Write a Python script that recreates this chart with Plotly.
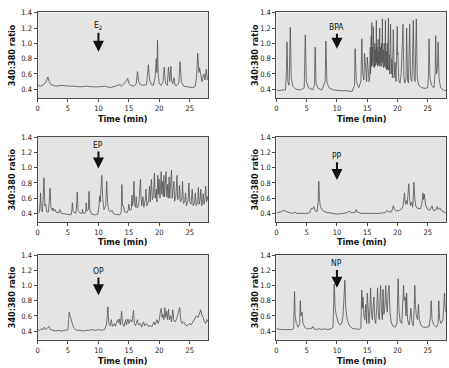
import plotly.graph_objects as go

# ---------------- data (time in min, 340:380 ratio) ----------------
e2_t = [0, 0.5, 1.0, 1.4, 1.7, 1.9, 2.2, 2.6, 3.0, 4.0,
        5.0, 6.0, 7.0, 8.0, 9.0, 10.0, 11.0, 12.0, 12.5, 13.0,
        13.5, 13.8, 14.2, 14.5, 14.8, 15.0, 15.3, 15.8, 16.2, 16.4,
        16.6, 16.9, 17.3, 17.9, 18.2, 18.4, 18.7, 19.0, 19.3, 19.5,
        19.6, 19.7, 19.8, 20.0, 20.3, 20.6, 20.8, 21.0, 21.3, 21.5,
        21.7, 21.9, 22.0, 22.2, 22.4, 22.6, 22.9, 23.2, 23.4, 23.6,
        24.0, 24.5, 25.0, 25.5, 25.9, 26.1, 26.3, 26.5, 26.6, 26.8,
        27.0, 27.2, 27.3, 27.5, 27.7, 27.9]
e2_y = [0.45, 0.44, 0.46, 0.50, 0.56, 0.50, 0.46, 0.45, 0.44, 0.45,
        0.44, 0.44, 0.43, 0.44, 0.43, 0.43, 0.44, 0.42, 0.43, 0.44,
        0.46, 0.44, 0.47, 0.50, 0.54, 0.48, 0.45, 0.44, 0.47, 0.63,
        0.50, 0.46, 0.45, 0.46, 0.72, 0.52, 0.46, 0.45, 0.55, 0.80,
        0.62, 1.04, 0.60, 0.47, 0.45, 0.50, 0.69, 0.48, 0.45, 0.69,
        0.50, 0.70, 0.52, 0.47, 0.55, 0.45, 0.45, 0.48, 0.76, 0.50,
        0.44, 0.43, 0.42, 0.42, 0.44, 0.55, 0.87, 0.62, 0.68, 0.55,
        0.50, 0.57, 0.60, 0.52, 0.66, 0.52]

bpa_t = [0, 0.5, 1.0, 1.5, 1.65, 1.75, 1.9, 2.1, 2.2, 2.3,
         2.45, 2.7, 3.2, 4.0, 4.6, 4.77, 4.95, 5.3, 6.0, 6.3,
         6.4, 6.55, 6.9, 7.5, 8.05, 8.17, 8.35, 8.8, 9.5, 10.5,
         11.5, 12.5, 12.9, 13.0, 13.2, 13.6, 13.95, 14.1, 14.25, 14.45,
         14.55, 14.75, 14.9, 15.0, 15.15, 15.3, 15.4, 15.5, 15.55, 15.65,
         15.7, 15.75, 15.8, 15.9, 15.95, 16.0, 16.05, 16.1, 16.15, 16.25,
         16.3, 16.4, 16.45, 16.5, 16.55, 16.65, 16.7, 16.8, 16.85, 16.95,
         17.0, 17.05, 17.1, 17.2, 17.25, 17.35, 17.4, 17.5, 17.55, 17.65,
         17.7, 17.8, 17.85, 17.95, 18.0, 18.05, 18.15, 18.2, 18.3, 18.35,
         18.5, 18.55, 18.65, 18.7, 18.85, 18.95, 19.05, 19.15, 19.3, 19.45,
         19.6, 19.75, 19.95, 20.0, 20.05, 20.2, 20.4, 20.6, 20.9, 21.05,
         21.2, 21.4, 21.5, 21.65, 21.8, 22.0, 22.15, 22.35, 22.45, 22.6,
         22.75, 22.9, 23.1, 23.25, 23.5, 24.0, 24.5, 25.0, 25.1, 25.2,
         25.35, 25.6, 26.0, 26.2, 26.3, 26.35, 26.45, 26.6, 26.7, 26.85,
         27.1, 27.5, 28.0]
bpa_y = [0.39, 0.38, 0.39, 0.39, 0.60, 1.02, 0.50, 0.45, 0.80, 1.21,
         0.55, 0.44, 0.40, 0.39, 0.42, 1.11, 0.50, 0.42, 0.39, 0.45,
         0.95, 0.48, 0.41, 0.39, 0.50, 1.03, 0.48, 0.41, 0.39, 0.38,
         0.38, 0.37, 0.45, 0.93, 0.50, 0.42, 0.50, 1.06, 0.60, 0.52,
         0.87, 0.55, 0.50, 0.82, 0.55, 0.50, 0.52, 0.95, 0.60, 1.10,
         0.70, 1.27, 0.75, 0.95, 0.70, 1.22, 0.72, 0.90, 0.68, 1.00,
         0.70, 0.92, 0.72, 1.30, 0.75, 0.95, 0.70, 1.05, 0.72, 0.90,
         0.70, 1.20, 0.75, 0.95, 0.70, 1.00, 0.70, 1.32, 0.75, 0.92,
         0.68, 1.00, 0.70, 0.90, 1.30, 0.68, 0.90, 0.65, 1.00, 0.66,
         1.33, 0.65, 0.85, 0.60, 1.25, 0.60, 0.80, 0.55, 1.18, 0.55,
         0.75, 0.50, 1.22, 0.85, 0.88, 0.52, 0.48, 0.60, 1.25, 0.55,
         0.48, 0.55, 1.20, 0.52, 0.48, 1.25, 0.55, 0.50, 0.70, 1.30,
         0.55, 0.50, 1.32, 0.55, 0.45, 0.42, 0.41, 0.42, 0.60, 1.06,
         0.55, 0.45, 0.42, 0.60, 1.10, 0.80, 0.60, 0.70, 1.02, 0.55,
         0.42, 0.39, 0.38]

ep_t = [0, 0.3, 0.45, 0.5, 0.6, 0.8, 0.95, 1.05, 1.2, 1.35,
        1.5, 1.8, 1.95, 2.05, 2.2, 2.4, 2.55, 2.7, 2.9, 3.1,
        3.5, 3.65, 3.9, 4.5, 5.0, 5.5, 5.65, 5.72, 5.85, 6.3,
        6.45, 6.52, 6.65, 7.0, 7.3, 7.38, 7.5, 7.9, 8.0, 8.1,
        8.35, 8.45, 8.6, 8.9, 9.5, 9.9, 10.1, 10.2, 10.3, 10.45,
        10.55, 10.7, 10.9, 11.2, 11.35, 11.5, 11.7, 12.0, 12.2, 12.5,
        13.0, 13.5, 13.75, 13.85, 13.95, 14.1, 14.3, 14.7, 14.9, 15.0,
        15.1, 15.4, 15.5, 15.6, 15.75, 15.82, 15.95, 16.1, 16.2, 16.35,
        16.6, 16.8, 16.9, 17.0, 17.1, 17.3, 17.45, 17.7, 17.8, 17.95,
        18.2, 18.4, 18.5, 18.7, 18.85, 19.0, 19.2, 19.3, 19.5, 19.6,
        19.75, 19.85, 19.95, 20.1, 20.3, 20.4, 20.55, 20.65, 20.75, 20.85,
        21.0, 21.1, 21.2, 21.35, 21.45, 21.6, 21.7, 21.85, 22.0, 22.1,
        22.25, 22.4, 22.5, 22.7, 22.9, 23.0, 23.2, 23.3, 23.45, 23.7,
        23.8, 23.95, 24.15, 24.3, 24.45, 24.7, 24.85, 25.0, 25.2, 25.4,
        25.55, 25.8, 25.9, 26.05, 26.3, 26.4, 26.55, 26.7, 26.8, 26.95,
        27.1, 27.2, 27.35, 27.5, 27.6, 27.75, 27.9, 28.0]
ep_y = [0.40, 0.42, 0.55, 0.67, 0.45, 0.42, 0.65, 0.87, 0.50, 0.52,
        0.42, 0.42, 0.60, 0.73, 0.48, 0.44, 0.47, 0.43, 0.45, 0.41,
        0.41, 0.45, 0.40, 0.39, 0.38, 0.38, 0.45, 0.54, 0.42, 0.40,
        0.55, 0.68, 0.44, 0.40, 0.40, 0.45, 0.40, 0.41, 0.54, 0.43,
        0.45, 0.69, 0.44, 0.39, 0.38, 0.39, 0.50, 0.63, 0.55, 0.75,
        0.90, 0.60, 0.45, 0.50, 0.82, 0.55, 0.44, 0.42, 0.44, 0.39,
        0.38, 0.38, 0.42, 0.78, 0.50, 0.50, 0.42, 0.41, 0.45, 0.52,
        0.44, 0.45, 0.64, 0.50, 0.60, 0.82, 0.52, 0.48, 0.62, 0.47,
        0.50, 0.72, 0.85, 0.60, 0.50, 0.62, 0.48, 0.58, 0.72, 0.50,
        0.55, 0.76, 0.55, 0.85, 0.58, 0.62, 0.93, 0.60, 0.72, 0.55,
        0.90, 0.65, 0.85, 0.60, 0.95, 0.65, 0.82, 0.62, 0.90, 0.62,
        0.80, 0.95, 0.62, 0.78, 0.60, 0.88, 0.60, 0.75, 0.97, 0.60,
        0.72, 0.82, 0.56, 0.62, 0.90, 0.58, 0.60, 0.77, 0.55, 0.60,
        0.82, 0.53, 0.55, 0.67, 0.50, 0.56, 0.80, 0.55, 0.52, 0.72,
        0.50, 0.55, 0.67, 0.50, 0.55, 0.74, 0.52, 0.58, 0.72, 0.50,
        0.55, 0.66, 0.52, 0.60, 0.76, 0.55, 0.62, 0.58]

pp_t = [0, 0.5, 0.8, 1.1, 1.4, 2.0, 2.5, 3.0, 3.1, 3.3,
        4.0, 4.5, 5.0, 5.5, 5.7, 5.8, 6.0, 6.2, 6.35, 6.7,
        6.9, 7.0, 7.1, 7.25, 7.5, 8.0, 8.5, 9.0, 10.0, 11.0,
        11.7, 12.0, 12.3, 13.0, 13.15, 13.3, 14.0, 15.0, 16.0, 17.0,
        18.0, 18.3, 18.5, 19.0, 19.2, 19.3, 19.5, 19.9, 20.3, 20.7,
        20.9, 21.05, 21.15, 21.3, 21.45, 21.5, 21.6, 21.75, 21.85, 22.0,
        22.15, 22.35, 22.5, 22.6, 22.7, 22.85, 23.0, 23.2, 23.5, 23.8,
        24.0, 24.1, 24.2, 24.3, 24.45, 24.6, 24.9, 25.3, 25.5, 25.7,
        25.9, 26.3, 26.55, 26.7, 27.0, 27.2, 27.6, 28.0]
pp_y = [0.41, 0.42, 0.42, 0.44, 0.43, 0.41, 0.40, 0.41, 0.42, 0.40,
        0.40, 0.40, 0.40, 0.41, 0.45, 0.47, 0.46, 0.49, 0.44, 0.42,
        0.55, 0.82, 0.60, 0.50, 0.45, 0.42, 0.41, 0.40, 0.39, 0.40,
        0.41, 0.43, 0.41, 0.41, 0.45, 0.42, 0.40, 0.40, 0.40, 0.40,
        0.41, 0.44, 0.42, 0.42, 0.47, 0.50, 0.45, 0.43, 0.44, 0.46,
        0.50, 0.62, 0.67, 0.52, 0.55, 0.57, 0.52, 0.65, 0.79, 0.58,
        0.50, 0.55, 0.48, 0.62, 0.81, 0.60, 0.50, 0.47, 0.46, 0.46,
        0.52, 0.62, 0.67, 0.58, 0.65, 0.52, 0.46, 0.44, 0.47, 0.50,
        0.44, 0.44, 0.49, 0.45, 0.47, 0.44, 0.42, 0.41]

op_t = [0, 0.3, 0.6, 0.9, 1.1, 1.3, 1.6, 1.9, 2.1, 2.5,
        3.0, 3.5, 4.0, 4.5, 5.0, 5.1, 5.2, 5.35, 5.5, 5.7,
        5.9, 6.2, 6.5, 7.0, 7.5, 8.0, 8.5, 9.0, 9.5, 10.0,
        10.5, 11.0, 11.3, 11.45, 11.55, 11.7, 11.9, 12.1, 12.3, 12.6,
        12.8, 13.0, 13.15, 13.3, 13.45, 13.6, 13.8, 13.95, 14.2, 14.45,
        14.6, 14.85, 15.0, 15.25, 15.5, 15.75, 15.9, 16.1, 16.4, 16.6,
        16.9, 17.1, 17.4, 17.6, 17.9, 18.2, 18.5, 18.8, 19.1, 19.3,
        19.6, 19.8, 20.0, 20.15, 20.3, 20.45, 20.6, 20.75, 20.9, 21.05,
        21.2, 21.35, 21.5, 21.65, 21.85, 22.0, 22.2, 22.35, 22.55, 22.8,
        23.0, 23.2, 23.35, 23.5, 23.7, 24.0, 24.3, 24.6, 24.9, 25.2,
        25.5, 25.8, 26.1, 26.35, 26.6, 26.8, 27.0, 27.2, 27.4, 27.6,
        27.8, 28.0]
op_y = [0.42, 0.41, 0.43, 0.42, 0.45, 0.42, 0.44, 0.46, 0.42, 0.41,
        0.40, 0.41, 0.40, 0.41, 0.42, 0.55, 0.65, 0.60, 0.55, 0.50,
        0.45, 0.42, 0.41, 0.41, 0.40, 0.41, 0.41, 0.42, 0.41, 0.42,
        0.41, 0.42, 0.48, 0.60, 0.72, 0.50, 0.47, 0.55, 0.46, 0.50,
        0.46, 0.52, 0.55, 0.51, 0.56, 0.48, 0.66, 0.50, 0.46, 0.55,
        0.48, 0.56, 0.50, 0.55, 0.52, 0.67, 0.50, 0.47, 0.55, 0.48,
        0.50, 0.45, 0.52, 0.47, 0.50, 0.46, 0.47, 0.46, 0.52, 0.48,
        0.55, 0.50, 0.55, 0.65, 0.70, 0.58, 0.62, 0.55, 0.71, 0.58,
        0.66, 0.55, 0.69, 0.55, 0.60, 0.52, 0.68, 0.55, 0.52, 0.55,
        0.60, 0.65, 0.71, 0.55, 0.50, 0.52, 0.48, 0.47, 0.50, 0.48,
        0.52, 0.55, 0.60, 0.58, 0.64, 0.68, 0.60, 0.58, 0.52, 0.50,
        0.55, 0.52]

np_t = [0, 0.5, 1.0, 1.5, 2.0, 2.5, 2.85, 2.95, 3.0, 3.1,
        3.3, 3.6, 3.85, 3.95, 4.05, 4.25, 4.4, 4.7, 5.0, 5.5,
        5.9, 6.0, 6.2, 6.6, 7.0, 7.5, 8.0, 8.5, 9.0, 9.35,
        9.45, 9.55, 9.7, 9.9, 10.2, 10.5, 10.8, 11.0, 11.2, 11.3,
        11.45, 11.7, 12.0, 12.3, 12.7, 13.2, 13.6, 13.95, 14.05, 14.1,
        14.2, 14.3, 14.45, 14.6, 14.75, 14.9, 15.0, 15.15, 15.3, 15.45,
        15.55, 15.7, 15.85, 16.0, 16.1, 16.25, 16.4, 16.6, 16.7, 16.85,
        17.0, 17.1, 17.2, 17.35, 17.5, 17.6, 17.75, 17.9, 18.05, 18.15,
        18.3, 18.45, 18.6, 18.75, 18.95, 19.2, 19.6, 19.9, 20.0, 20.1,
        20.25, 20.45, 20.7, 20.9, 21.0, 21.1, 21.25, 21.4, 21.5, 21.65,
        21.9, 22.1, 22.2, 22.4, 22.6, 22.75, 22.85, 22.95, 23.1, 23.3,
        23.45, 23.6, 23.9, 24.3, 24.8, 25.2, 25.45, 25.55, 25.7, 26.0,
        26.4, 26.7, 26.8, 26.95, 27.2, 27.5, 27.65, 27.75, 27.85, 28.0]
np_y = [0.43, 0.42, 0.42, 0.42, 0.42, 0.42, 0.43, 0.70, 0.92, 0.60,
        0.50, 0.45, 0.50, 0.80, 0.60, 0.65, 0.50, 0.45, 0.43, 0.43,
        0.44, 0.46, 0.43, 0.42, 0.43, 0.42, 0.43, 0.42, 0.43, 0.45,
        0.80, 1.02, 0.70, 0.60, 0.52, 0.48, 0.50, 0.60, 0.90, 1.07,
        0.70, 0.55, 0.48, 0.45, 0.43, 0.43, 0.42, 0.44, 0.80, 0.94,
        0.70, 0.85, 0.60, 0.55, 0.75, 0.50, 0.90, 0.60, 0.50, 0.70,
        0.97, 0.62, 0.55, 0.75, 0.85, 0.55, 0.50, 0.75, 0.97, 0.60,
        0.55, 0.80, 1.00, 0.65, 0.55, 0.95, 0.62, 0.70, 1.00, 0.80,
        0.65, 0.90, 1.00, 0.65, 0.52, 0.47, 0.45, 0.50, 0.80, 1.09,
        0.65, 0.52, 0.50, 0.75, 1.00, 0.80, 0.85, 0.60, 0.90, 0.55,
        0.48, 0.60, 0.70, 0.50, 0.47, 0.70, 1.00, 0.75, 0.60, 0.55,
        0.75, 0.55, 0.47, 0.45, 0.45, 0.46, 0.60, 0.80, 0.55, 0.48,
        0.45, 0.50, 0.80, 0.55, 0.50, 0.55, 0.80, 0.90, 0.70, 0.65]

panel_labels = ["E<sub>2</sub>", "BPA", "EP", "PP", "OP", "NP"]
treatment_time = [10, 10, 10, 10, 10, 10]
x_ticks = [0, 5, 10, 15, 20, 25]
y_ticks = [0.4, 0.6, 0.8, 1.0, 1.2, 1.4]
y_ticktext = ["0.4", "0.6", "0.8", "1.0", "1.2", "1.4"]

series = [(e2_t, e2_y), (bpa_t, bpa_y), (ep_t, ep_y),
          (pp_t, pp_y), (op_t, op_y), (np_t, np_y)]
for t, y in series:
    assert len(t) == len(y)

# ---------------- layout geometry ----------------
W, H = 449, 368
col_x = [(35.7, 207.0), (275.6, 446.0)]
row_y = [(8.5, 95.0), (134.5, 220.5), (253.5, 339.5)]
xtitle_py = [116, 240.5, 361]
ytitle_px = [10, 254]
arrow_tip = [0.89, 0.93, 0.99, 0.84, 0.87, 0.97]
label_y = [1.23, 1.21, 1.30, 1.16, 1.19, 1.29]

FONT = "Liberation Sans Narrow, Arial Narrow, DejaVu Sans Condensed, sans-serif"

fig = go.Figure()
annotations = []
for i, (t, y) in enumerate(series):
    r, c = divmod(i, 2)
    sfx = "" if i == 0 else str(i + 1)
    fig.add_trace(go.Scatter(x=t, y=y, mode="lines",
                             line=dict(color="#505050", width=0.8),
                             xaxis="x" + sfx, yaxis="y" + sfx,
                             showlegend=False, hoverinfo="skip"))
    x0, x1 = col_x[c]
    y0, y1 = row_y[r]
    common = dict(showline=True, mirror=True, linecolor="#4a4a4a", linewidth=1,
                  ticks="outside", ticklen=3, tickwidth=0.8, tickcolor="#4a4a4a",
                  showgrid=False, zeroline=False,
                  tickfont=dict(family=FONT, size=7.5, color="#222"))
    fig.layout["xaxis" + sfx] = dict(domain=[x0 / W, x1 / W], range=[0, 28],
                                     tickvals=x_ticks, anchor="y" + sfx, **common)
    fig.layout["yaxis" + sfx] = dict(domain=[1 - y1 / H, 1 - y0 / H], range=[0.285, 1.405],
                                     tickvals=y_ticks, ticktext=y_ticktext,
                                     anchor="x" + sfx, **common)
    annotations.append(dict(text="<b>Time (min)</b>", xref="paper", yref="paper",
                            x=(x0 + x1) / 2 / W, y=1 - xtitle_py[r] / H,
                            xanchor="center", yanchor="middle", showarrow=False,
                            font=dict(family=FONT, size=9, color="#111")))
    annotations.append(dict(text="<b>340:380 ratio</b>", xref="paper", yref="paper",
                            x=ytitle_px[c] / W, y=1 - (y0 + y1) / 2 / H, textangle=-90,
                            xanchor="center", yanchor="middle", showarrow=False,
                            font=dict(family=FONT, size=9, color="#111")))
    # treatment label with arrow pointing down to the trace
    annotations.append(dict(text=panel_labels[i], x=treatment_time[i], y=arrow_tip[i],
                            ax=treatment_time[i], ay=label_y[i],
                            xref="x" + sfx, yref="y" + sfx,
                            axref="x" + sfx, ayref="y" + sfx,
                            showarrow=True, arrowhead=2, arrowsize=1.1,
                            arrowwidth=2, arrowcolor="#111", standoff=0,
                            font=dict(family=FONT, size=8.5, color="#111")))

fig.update_layout(width=W, height=H, margin=dict(l=0, r=0, t=0, b=0),
                  paper_bgcolor="white", plot_bgcolor="#e4e4e4",
                  annotations=annotations, showlegend=False)
fig.write_html("out.html", config={"displayModeBar": False},
               post_script="document.body.style.margin='0';document.body.style.padding='0';")
